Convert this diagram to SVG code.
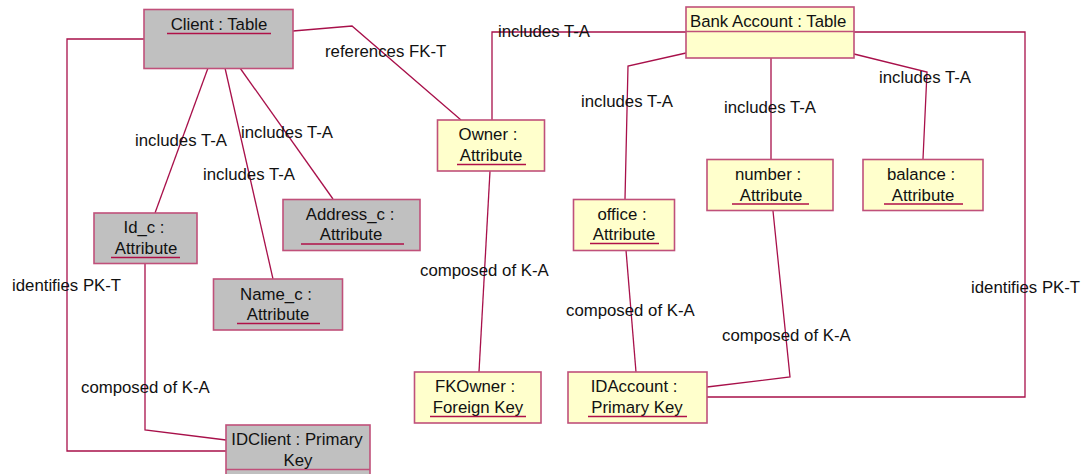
<svg xmlns="http://www.w3.org/2000/svg" width="1086" height="474" viewBox="0 0 1086 474">
<style>
.box{stroke:#c0507a;stroke-width:1.6}
.g{fill:#c0c0c0}
.y{fill:#ffffcc}
.t{font-family:"Liberation Sans",Arial,sans-serif;font-size:16.8px;fill:#111}
.m{text-anchor:middle}
.u{stroke:#b01048;stroke-width:1.5;fill:none}
.c path{fill:none;stroke:#a8104a;stroke-width:1.3}
</style>
<rect width="1086" height="474" fill="#fff"/>
<g class="c" id="connectors">
<path d="M144,39 H67 V451 H226"/>
<path d="M208,68 L155,213"/>
<path d="M225,68 L273,279"/>
<path d="M240,68 L333,199"/>
<path d="M145,263 V430 L226,440"/>
<path d="M293,31 L352,26 L461,120"/>
<path d="M492,120 V32 H686"/>
<path d="M686,53 L628,66 L625,199"/>
<path d="M771,58 V159"/>
<path d="M854,54 L927,72 L923,159"/>
<path d="M854,32 H1025 V397 H707"/>
<path d="M490,171 L479,372"/>
<path d="M626,250 L636,372"/>
<path d="M773,211 L790,377 L707,387"/>
<text class="t" x="135" y="146">includes T-A</text>
<text class="t" x="241" y="138">includes T-A</text>
<text class="t" x="203" y="180">includes T-A</text>
<text class="t" x="12" y="291">identifies PK-T</text>
<text class="t" x="81" y="393">composed of K-A</text>
<text class="t" x="325" y="57">references FK-T</text>
<text class="t" x="498" y="37">includes T-A</text>
<text class="t" x="581" y="107">includes T-A</text>
<text class="t" x="724" y="113">includes T-A</text>
<text class="t" x="879" y="83">includes T-A</text>
<text class="t" x="971" y="293">identifies PK-T</text>
<text class="t" x="420" y="276">composed of K-A</text>
<text class="t" x="566" y="316">composed of K-A</text>
<text class="t" x="722" y="341">composed of K-A</text>
</g>
<g id="client">
<rect class="box g" x="144" y="9.5" width="149" height="59"/>
<text class="t m" x="219" y="30">Client : Table</text>
<path class="u" d="M167,33.5 H271"/>
</g>
<g id="idc">
<rect class="box g" x="94" y="213" width="103" height="50.5"/>
<text class="t m" x="144" y="233">Id_c :</text>
<text class="t m" x="146" y="254">Attribute</text>
<path class="u" d="M111,257.5 H180"/>
</g>
<g id="namec">
<rect class="box g" x="213.5" y="279" width="129" height="51"/>
<text class="t m" x="276" y="299.5">Name_c :</text>
<text class="t m" x="278" y="320">Attribute</text>
<path class="u" d="M237,323.5 H320"/>
</g>
<g id="addressc">
<rect class="box g" x="283" y="199.5" width="137" height="51"/>
<text class="t m" x="350" y="219.5">Address_c :</text>
<text class="t m" x="351" y="240">Attribute</text>
<path class="u" d="M301,244 H404"/>
</g>
<g id="idclient">
<rect class="box g" x="226" y="425" width="144" height="60"/>
<path class="box" d="M226,469.5 H370" fill="none"/>
<text class="t m" x="297" y="445">IDClient : Primary</text>
<text class="t m" x="298" y="466">Key</text>
</g>
<g id="owner">
<rect class="box y" x="437.5" y="120" width="107" height="51"/>
<text class="t m" x="488" y="140">Owner :</text>
<text class="t m" x="491" y="161">Attribute</text>
<path class="u" d="M457,164.5 H526"/>
</g>
<g id="bankaccount">
<rect class="box y" x="686" y="7" width="168" height="51"/>
<path class="box" d="M686,31.5 H854" fill="none"/>
<text class="t" x="690" y="27">Bank Account : Table</text>
</g>
<g id="office">
<rect class="box y" x="573.5" y="199.5" width="101" height="51"/>
<text class="t m" x="622" y="219.5">office :</text>
<text class="t m" x="624" y="240">Attribute</text>
<path class="u" d="M590,243.5 H659"/>
</g>
<g id="number">
<rect class="box y" x="707" y="159.5" width="126" height="51"/>
<text class="t m" x="768" y="180">number :</text>
<text class="t m" x="771" y="200.5">Attribute</text>
<path class="u" d="M732,204 H809"/>
</g>
<g id="balance">
<rect class="box y" x="863" y="159.5" width="120" height="51"/>
<text class="t m" x="921" y="180">balance :</text>
<text class="t m" x="923" y="200.5">Attribute</text>
<path class="u" d="M884,204 H963"/>
</g>
<g id="fkowner">
<rect class="box y" x="414.5" y="372" width="126.5" height="51"/>
<text class="t m" x="475" y="392">FKOwner :</text>
<text class="t m" x="478" y="413">Foreign Key</text>
<path class="u" d="M430,416.5 H526"/>
</g>
<g id="idaccount">
<rect class="box y" x="568" y="372" width="139" height="51"/>
<text class="t m" x="634" y="392">IDAccount :</text>
<text class="t m" x="637" y="413">Primary Key</text>
<path class="u" d="M588,416.5 H687"/>
</g>
</svg>
